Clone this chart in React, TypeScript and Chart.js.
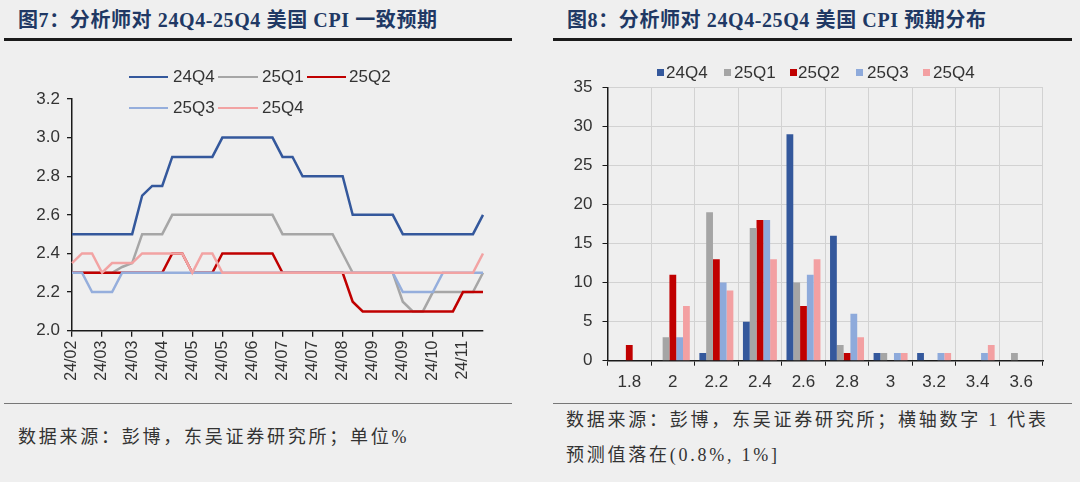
import React, { useEffect, useRef } from 'react';
import { Chart, registerables } from 'chart.js';

Chart.register(...registerables);

// ---------- Figure 7: consensus CPI expectations (weekly) ----------
const weekLabels = [
  '24/02', '24/02', '24/02', '24/03', '24/03', '24/03', '24/03', '24/03', '24/04', '24/04',
  '24/04', '24/04', '24/05', '24/05', '24/05', '24/05', '24/05', '24/06', '24/06', '24/06',
  '24/06', '24/07', '24/07', '24/07', '24/07', '24/08', '24/08', '24/08', '24/08', '24/08',
  '24/09', '24/09', '24/09', '24/09', '24/10', '24/10', '24/10', '24/10', '24/11', '24/11',
  '24/11', '24/11',
];

const cpi24Q4 = [
  2.5, 2.5, 2.5, 2.5, 2.5, 2.5, 2.5, 2.7, 2.75, 2.75,
  2.9, 2.9, 2.9, 2.9, 2.9, 3.0, 3.0, 3.0, 3.0, 3.0,
  3.0, 2.9, 2.9, 2.8, 2.8, 2.8, 2.8, 2.8, 2.6, 2.6,
  2.6, 2.6, 2.6, 2.5, 2.5, 2.5, 2.5, 2.5, 2.5, 2.5,
  2.5, 2.6,
];
const cpi25Q1 = [
  2.3, 2.3, 2.3, 2.3, 2.3, 2.33, 2.35, 2.5, 2.5, 2.5,
  2.6, 2.6, 2.6, 2.6, 2.6, 2.6, 2.6, 2.6, 2.6, 2.6,
  2.6, 2.5, 2.5, 2.5, 2.5, 2.5, 2.5, 2.4, 2.3, 2.3,
  2.3, 2.3, 2.3, 2.15, 2.1, 2.1, 2.2, 2.2, 2.2, 2.2,
  2.2, 2.3,
];
const cpi25Q2 = [
  2.3, 2.3, 2.3, 2.3, 2.3, 2.3, 2.3, 2.3, 2.3, 2.3,
  2.4, 2.4, 2.3, 2.3, 2.3, 2.4, 2.4, 2.4, 2.4, 2.4,
  2.4, 2.3, 2.3, 2.3, 2.3, 2.3, 2.3, 2.3, 2.15, 2.1,
  2.1, 2.1, 2.1, 2.1, 2.1, 2.1, 2.1, 2.1, 2.1, 2.2,
  2.2, 2.2,
];
const cpi25Q3 = [
  2.3, 2.3, 2.2, 2.2, 2.2, 2.3, 2.3, 2.3, 2.3, 2.3,
  2.3, 2.3, 2.3, 2.3, 2.3, 2.3, 2.3, 2.3, 2.3, 2.3,
  2.3, 2.3, 2.3, 2.3, 2.3, 2.3, 2.3, 2.3, 2.3, 2.3,
  2.3, 2.3, 2.3, 2.2, 2.2, 2.2, 2.2, 2.3, 2.3, 2.3,
  2.3, 2.3,
];
const cpi25Q4 = [
  2.35, 2.4, 2.4, 2.3, 2.35, 2.35, 2.35, 2.4, 2.4, 2.4,
  2.4, 2.4, 2.3, 2.4, 2.4, 2.3, 2.3, 2.3, 2.3, 2.3,
  2.3, 2.3, 2.3, 2.3, 2.3, 2.3, 2.3, 2.3, 2.3, 2.3,
  2.3, 2.3, 2.3, 2.3, 2.3, 2.3, 2.3, 2.3, 2.3, 2.3,
  2.3, 2.4,
];
const lineYTicks = { min: 2.0, max: 3.2, step: 0.2 };

// ---------- Figure 8: distribution of forecasts ----------
const distCategories = ['1.8', '2', '2.2', '2.4', '2.6', '2.8', '3', '3.2', '3.4', '3.6'];
const dist24Q4 = [0, 0, 1, 5, 29, 16, 1, 1, 0, 0];
const dist25Q1 = [0, 3, 19, 17, 10, 2, 1, 0, 0, 1];
const dist25Q2 = [2, 11, 13, 18, 7, 1, 0, 0, 0, 0];
const dist25Q3 = [0, 3, 10, 18, 11, 6, 1, 1, 1, 0];
const dist25Q4 = [0, 7, 9, 13, 13, 3, 1, 1, 2, 0];
const barYTicks = { min: 0, max: 35, step: 5 };

const seriesNames = ['24Q4', '25Q1', '25Q2', '25Q3', '25Q4'];
const lineColors = ['#34589c', '#a6a6a6', '#c00000', '#95aedc', '#f2a3a3'];
const barColors = ['#34589c', '#a5a5a5', '#c00000', '#8eaadb', '#f3a0a2'];

const SANS = "'Liberation Sans', Arial, sans-serif";
const SERIF = "'Liberation Serif', 'Noto Sans CJK SC', serif";
const TEXT = '#333333';
const AXIS = '#1a1a1a';

function LineChart() {
  const ref = useRef<HTMLCanvasElement>(null);
  useEffect(() => {
    const data = [cpi24Q4, cpi25Q1, cpi25Q2, cpi25Q3, cpi25Q4];
    const chart = new Chart(ref.current!, {
      type: 'line',
      data: {
        labels: weekLabels,
        datasets: data.map((d, i) => ({
          label: seriesNames[i],
          data: d,
          borderColor: lineColors[i],
          backgroundColor: lineColors[i],
          borderWidth: 2.5,
          pointRadius: 0,
          tension: 0,
          fill: false,
          order: 4 - i,
        })),
      },
      options: {
        animation: false,
        responsive: false,
        maintainAspectRatio: false,
        layout: { padding: { top: 39, right: 17, left: 0, bottom: 0 } },
        plugins: { legend: { display: false }, tooltip: { enabled: false } },
        scales: {
          x: {
            type: 'category',
            offset: false,
            grid: {
              drawOnChartArea: false,
              tickLength: 6,
              lineWidth: 1.3,
              color: (ctx: any) => (ctx.index % 3 === 0 ? AXIS : 'rgba(0,0,0,0)'),
            },
            border: { color: AXIS, width: 1.5 },
            ticks: {
              autoSkip: false,
              maxRotation: 90,
              minRotation: 90,
              padding: 4,
              color: TEXT,
              font: { family: SANS, size: 16 },
              callback: function (this: any, v: any, i: number) {
                return i % 3 === 0 ? this.getLabelForValue(v) : '';
              },
            },
            afterFit: (s: any) => {
              s.height = 74.3;
              s.paddingRight = 0;
              s.paddingLeft = 0;
            },
          },
          y: {
            min: lineYTicks.min,
            max: lineYTicks.max,
            grid: { drawOnChartArea: false, tickLength: 5, color: AXIS, lineWidth: 1.3 },
            border: { color: AXIS, width: 1.5 },
            ticks: {
              stepSize: lineYTicks.step,
              padding: 7,
              color: TEXT,
              font: { family: SANS, size: 17 },
              callback: (v: any) => Number(v).toFixed(1),
            },
            afterFit: (s: any) => {
              s.width = 72;
            },
          },
        },
      },
    });
    return () => chart.destroy();
  }, []);
  return (
    <canvas
      ref={ref}
      width={500}
      height={345}
      style={{ position: 'absolute', left: 0, top: 60, width: 500, height: 345 }}
    />
  );
}

function BarChart() {
  const ref = useRef<HTMLCanvasElement>(null);
  useEffect(() => {
    const data = [dist24Q4, dist25Q1, dist25Q2, dist25Q3, dist25Q4];
    const chart = new Chart(ref.current!, {
      type: 'bar',
      data: {
        labels: distCategories,
        datasets: data.map((d, i) => ({
          label: seriesNames[i],
          data: d,
          backgroundColor: barColors[i],
          borderWidth: 0,
          barPercentage: 1,
          categoryPercentage: 0.78,
        })),
      },
      options: {
        animation: false,
        responsive: false,
        maintainAspectRatio: false,
        layout: { padding: { top: 27.3, right: 17, left: 0, bottom: 0 } },
        plugins: { legend: { display: false }, tooltip: { enabled: false } },
        scales: {
          x: {
            offset: true,
            grid: {
              offset: true,
              color: '#d2d2d2',
              tickColor: AXIS,
              tickLength: 5,
              lineWidth: 1,
            },
            border: { color: AXIS, width: 1.5 },
            ticks: { padding: 6, color: TEXT, font: { family: SANS, size: 17 } },
            afterFit: (s: any) => {
              s.height = 44.3;
            },
          },
          y: {
            min: barYTicks.min,
            max: barYTicks.max,
            grid: { color: '#d2d2d2', tickColor: AXIS, tickLength: 5, lineWidth: 1 },
            border: { color: AXIS, width: 1.5 },
            ticks: { stepSize: barYTicks.step, padding: 10, color: TEXT, font: { family: SANS, size: 17 } },
            afterFit: (s: any) => {
              s.width = 47.5;
            },
          },
        },
      },
    });
    return () => chart.destroy();
  }, []);
  return (
    <canvas
      ref={ref}
      width={500}
      height={345}
      style={{ position: 'absolute', left: 560, top: 60, width: 500, height: 345 }}
    />
  );
}

const abs = (left: number, top: number, extra: React.CSSProperties = {}): React.CSSProperties => ({
  position: 'absolute',
  left,
  top,
  whiteSpace: 'nowrap',
  ...extra,
});

function LegendText({ x, y, text }: { x: number; y: number; text: string }) {
  return (
    <div style={abs(x, y - 11, { height: 22, lineHeight: '22px', fontFamily: SANS, fontSize: 17, color: TEXT })}>
      {text}
    </div>
  );
}

export default function App() {
  const lineLegend = [
    { x1: 129, x2: 168, tx: 173, y: 77 },
    { x1: 218, x2: 258, tx: 262, y: 77 },
    { x1: 307, x2: 346, tx: 349, y: 77 },
    { x1: 129, x2: 168, tx: 173, y: 108 },
    { x1: 218, x2: 258, tx: 262, y: 108 },
  ];
  const barLegend = [
    { sx: 657, tx: 666 },
    { sx: 724, tx: 734 },
    { sx: 790, tx: 798 },
    { sx: 856, tx: 867 },
    { sx: 923, tx: 933 },
  ];
  const titleStyle: React.CSSProperties = {
    fontFamily: SERIF,
    fontWeight: 'bold',
    fontSize: 20,
    lineHeight: '24px',
    color: '#203864',
    letterSpacing: '0.6px',
  };
  const noteStyle: React.CSSProperties = {
    fontFamily: SERIF,
    fontSize: 18,
    lineHeight: '24px',
    color: '#333333',
    letterSpacing: '2.75px',
  };
  return (
    <div
      style={{
        position: 'fixed',
        left: 0,
        top: 0,
        width: 1080,
        height: 482,
        background: '#efefef',
        overflow: 'hidden',
      }}
    >
      <div style={abs(18, 8, titleStyle)}>图7：分析师对 24Q4-25Q4 美国 CPI 一致预期</div>
      <div style={abs(567, 8, titleStyle)}>图8：分析师对 24Q4-25Q4 美国 CPI 预期分布</div>
      <div style={abs(4, 38, { width: 508, height: 2.5, background: '#1a1a1a' })} />
      <div style={abs(553, 38, { width: 519, height: 2.5, background: '#1a1a1a' })} />

      <LineChart />
      <BarChart />

      {lineLegend.map((l, i) => (
        <React.Fragment key={'ll' + i}>
          <div style={abs(l.x1, l.y - 1.25, { width: l.x2 - l.x1, height: 2.5, background: lineColors[i] })} />
          <LegendText x={l.tx} y={l.y} text={seriesNames[i]} />
        </React.Fragment>
      ))}
      {barLegend.map((b, i) => (
        <React.Fragment key={'bl' + i}>
          <div style={abs(b.sx, 69, { width: 7, height: 7, background: barColors[i] })} />
          <LegendText x={b.tx} y={72.5} text={seriesNames[i]} />
        </React.Fragment>
      ))}

      <div style={abs(4, 403, { width: 508, height: 1, background: '#777777' })} />
      <div style={abs(553, 403, { width: 519, height: 1, background: '#777777' })} />

      <div style={abs(18, 425, noteStyle)}>数据来源：彭博，东吴证券研究所；单位%</div>
      <div style={abs(566, 408, noteStyle)}>数据来源：彭博，东吴证券研究所；横轴数字 1 代表</div>
      <div style={abs(566, 443, noteStyle)}>预测值落在(0.8%, 1%]</div>
    </div>
  );
}
